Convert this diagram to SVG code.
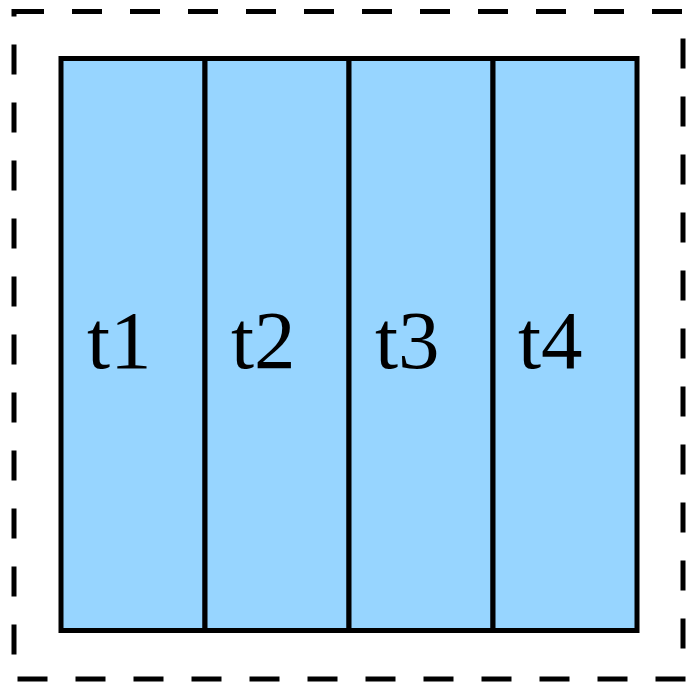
<svg xmlns="http://www.w3.org/2000/svg" width="686" height="683" viewBox="0 0 686 683">
<style>
.cell{fill:#97d5ff;stroke:#000;stroke-width:5}
.lbl{font-family:"Liberation Serif","Times New Roman",serif;font-size:83px;fill:#000}
.frame{fill:none;stroke:#000;stroke-width:5;stroke-dasharray:30 28}
</style>
<rect class="frame" x="14" y="11.5" width="669" height="667.5"/>
<g id="t1"><rect class="cell" x="61" y="58.5" width="144" height="572"/><text class="lbl" x="87" y="368">t1</text></g>
<g id="t2"><rect class="cell" x="205" y="58.5" width="144" height="572"/><text class="lbl" x="231" y="368">t2</text></g>
<g id="t3"><rect class="cell" x="349" y="58.5" width="144" height="572"/><text class="lbl" x="375" y="368">t3</text></g>
<g id="t4"><rect class="cell" x="493" y="58.5" width="144" height="572"/><text class="lbl" x="518" y="368">t4</text></g>
<g id="connectors"></g>
</svg>
